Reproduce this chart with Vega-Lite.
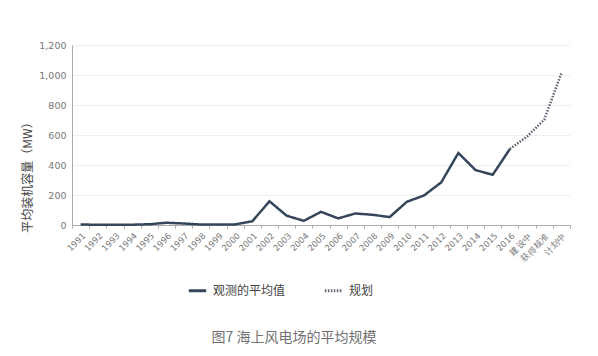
{
  "$schema": "https://vega.github.io/schema/vega-lite/v6.json",
  "width": 498,
  "height": 180,
  "autosize": "none",
  "padding": {"left": 72, "top": 45, "right": 28, "bottom": 131},
  "background": "white",
  "config": {"font": "Noto Sans CJK SC", "view": {"stroke": null}},
  "title": {
    "text": "图7  海上风电场的平均规模",
    "orient": "bottom",
    "anchor": "middle",
    "baseline": "top",
    "dx": -27,
    "offset": 34,
    "fontSize": 14,
    "fontWeight": "normal",
    "color": "#707070",
    "font": "Noto Sans CJK SC"
  },
  "data": {
    "values": [
      {"year": "1991", "value": 3, "series": "观测的平均值"},
      {"year": "1992", "value": 2, "series": "观测的平均值"},
      {"year": "1993", "value": 2, "series": "观测的平均值"},
      {"year": "1994", "value": 2, "series": "观测的平均值"},
      {"year": "1995", "value": 5, "series": "观测的平均值"},
      {"year": "1996", "value": 15, "series": "观测的平均值"},
      {"year": "1997", "value": 10, "series": "观测的平均值"},
      {"year": "1998", "value": 3, "series": "观测的平均值"},
      {"year": "1999", "value": 3, "series": "观测的平均值"},
      {"year": "2000", "value": 4, "series": "观测的平均值"},
      {"year": "2001", "value": 25, "series": "观测的平均值"},
      {"year": "2002", "value": 158, "series": "观测的平均值"},
      {"year": "2003", "value": 62, "series": "观测的平均值"},
      {"year": "2004", "value": 28, "series": "观测的平均值"},
      {"year": "2005", "value": 88, "series": "观测的平均值"},
      {"year": "2006", "value": 44, "series": "观测的平均值"},
      {"year": "2007", "value": 77, "series": "观测的平均值"},
      {"year": "2008", "value": 68, "series": "观测的平均值"},
      {"year": "2009", "value": 53, "series": "观测的平均值"},
      {"year": "2010", "value": 155, "series": "观测的平均值"},
      {"year": "2011", "value": 197, "series": "观测的平均值"},
      {"year": "2012", "value": 284, "series": "观测的平均值"},
      {"year": "2013", "value": 480, "series": "观测的平均值"},
      {"year": "2014", "value": 366, "series": "观测的平均值"},
      {"year": "2015", "value": 335, "series": "观测的平均值"},
      {"year": "2016", "value": 507, "series": "观测的平均值"},
      {"year": "2016", "value": 507, "series": "规划"},
      {"year": "建设中", "value": 590, "series": "规划"},
      {"year": "获得核准", "value": 702, "series": "规划"},
      {"year": "计划中", "value": 1013, "series": "规划"}
    ]
  },
  "mark": {"type": "line", "strokeWidth": 2.5},
  "encoding": {
    "x": {
      "field": "year",
      "type": "nominal",
      "sort": ["1991","1992","1993","1994","1995","1996","1997","1998","1999","2000","2001","2002","2003","2004","2005","2006","2007","2008","2009","2010","2011","2012","2013","2014","2015","2016","建设中","获得核准","计划中"],
      "scale": {"type": "band", "paddingInner": 0, "paddingOuter": 0},
      "axis": {
        "title": null,
        "labelAngle": -45,
        "labelFont": "DejaVu Sans",
        "labelFontSize": 8.5,
        "labelColor": "#777777",
        "labelPadding": 3,
        "tickBand": "extent",
        "tickColor": "#aaaaaa",
        "tickSize": 3,
        "domainColor": "#aaaaaa",
        "grid": false
      }
    },
    "y": {
      "field": "value",
      "type": "quantitative",
      "scale": {"domain": [0, 1200]},
      "axis": {
        "title": "平均装机容量（MW）",
        "titleFontSize": 12,
        "titleFontWeight": "normal",
        "titleColor": "#444444",
        "titlePadding": 4,
        "titleY": 129,
        "values": [0, 200, 400, 600, 800, 1000, 1200],
        "format": ",d",
        "labelFont": "DejaVu Sans",
        "labelFontSize": 9.5,
        "labelColor": "#777777",
        "labelPadding": 6,
        "ticks": false,
        "domainColor": "#aaaaaa",
        "gridColor": "#eeeeee"
      }
    },
    "color": {
      "field": "series",
      "type": "nominal",
      "scale": {"domain": ["观测的平均值", "规划"], "range": ["#36465a", "#5b6470"]},
      "legend": {
        "title": null,
        "orient": "none",
        "legendX": 115,
        "legendY": 235,
        "direction": "horizontal",
        "columnPadding": 32,
        "labelFontSize": 12,
        "labelColor": "#444444",
        "symbolType": "stroke",
        "symbolStrokeWidth": 3,
        "symbolSize": 300,
        "labelOffset": 5
      }
    },
    "strokeDash": {
      "field": "series",
      "type": "nominal",
      "scale": {"domain": ["观测的平均值", "规划"], "range": [[1, 0], [1.5, 1.5]]},
      "legend": {
        "title": null,
        "orient": "none",
        "legendX": 115,
        "legendY": 235,
        "direction": "horizontal",
        "columnPadding": 32,
        "labelFontSize": 12,
        "labelColor": "#444444",
        "symbolType": "stroke",
        "symbolStrokeWidth": 3,
        "symbolSize": 300,
        "labelOffset": 5
      }
    }
  }
}
